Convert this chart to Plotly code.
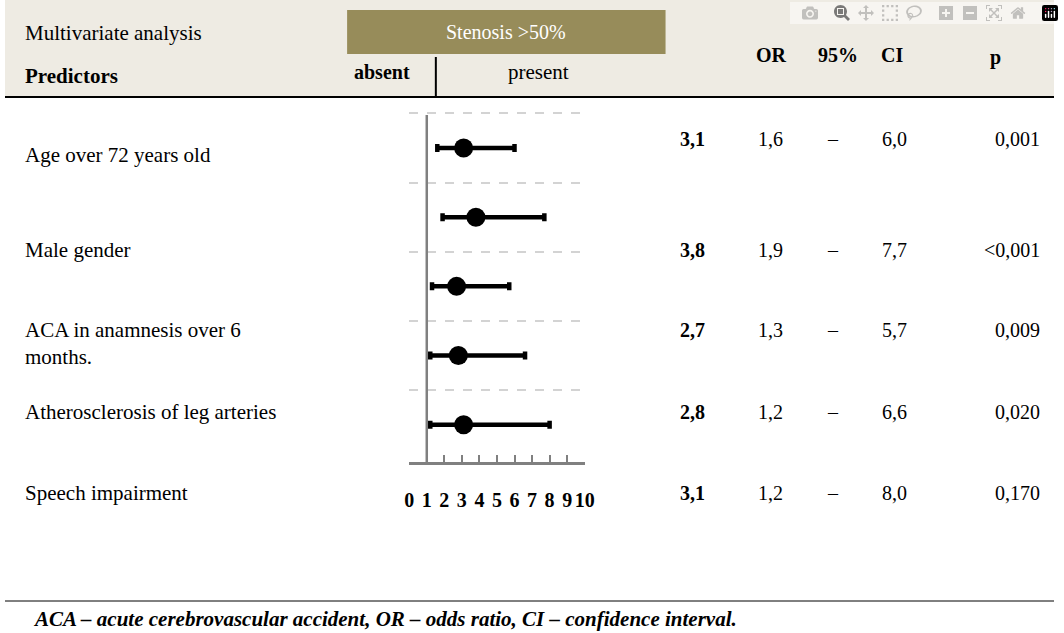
import plotly.graph_objects as go

W, H = 1064, 633
predictors = ["Age over 72 years old", "Male gender", "ACA in anamnesis over 6<br>months.",
              "Atherosclerosis of leg arteries", "Speech impairment"]
or_vals = [3.1, 3.8, 2.7, 2.8, 3.1]
ci_low = [1.6, 1.9, 1.3, 1.2, 1.2]
ci_high = [6.0, 7.7, 5.7, 6.6, 8.0]
or_txt = ["3,1", "3,8", "2,7", "2,8", "3,1"]
lo_txt = ["1,6", "1,9", "1,3", "1,2", "1,2"]
hi_txt = ["6,0", "7,7", "5,7", "6,6", "8,0"]
p_txt = ["0,001", "<0,001", "0,009", "0,020", "0,170"]
ypos = [4.5, 3.5, 2.5, 1.5, 0.5]
xticks = list(range(0, 11))

def px(x): return x / W
def py(y): return 1 - y / H

F = "Liberation Serif"
fig = go.Figure()
fig.add_trace(go.Scatter(
    x=or_vals, y=ypos, mode="markers",
    marker=dict(size=19, color="black"),
    error_x=dict(type="data", symmetric=False,
                 array=[h - o for h, o in zip(ci_high, or_vals)],
                 arrayminus=[o - l for o, l in zip(or_vals, ci_low)],
                 thickness=4.5, width=4, color="black"),
    showlegend=False, hoverinfo="skip"))

shapes = [
    dict(type="rect", xref="paper", yref="paper", x0=0, x1=1, y0=py(97), y1=1,
         fillcolor="#EEEBE3", line_width=0, layer="below"),
    dict(type="rect", xref="paper", yref="paper", x0=px(347), x1=px(670), y0=py(54), y1=py(10),
         fillcolor="#978C5A", line_width=0),
    dict(type="line", xref="paper", yref="paper", x0=0, x1=1, y0=py(97), y1=py(97),
         line=dict(color="black", width=2)),
    dict(type="line", xref="paper", yref="paper", x0=px(437), x1=px(437), y0=py(57), y1=py(97),
         line=dict(color="black", width=2)),
    dict(type="line", xref="paper", yref="paper", x0=0, x1=1, y0=py(601), y1=py(601),
         line=dict(color="black", width=1)),
    dict(type="line", xref="x", yref="paper", x0=1, x1=1, y0=py(462), y1=py(115),
         line=dict(color="#808080", width=2.5)),
]

ann = []
def T(x, y, s, size=20, bold=False, anchor="left", color="black", italic=False):
    if bold: s = "<b>" + s + "</b>"
    if italic: s = "<i>" + s + "</i>"
    ann.append(dict(xref="paper", yref="paper", x=px(x), y=py(y), text=s, showarrow=False,
                    xanchor=anchor, yanchor="middle", align="left",
                    font=dict(family=F, size=size, color=color)))

T(18, 33, "Multivariate analysis", size=21)
T(18, 76, "Predictors", bold=True, size=21)
T(508, 32, "Stenosis >50%", color="white", anchor="center", size=20)
T(382, 72, "absent", bold=True, anchor="center", size=20)
T(541, 72, "present", anchor="center", size=21)
T(777, 55, "OR", bold=True, anchor="center")
T(845, 55, "95%", bold=True, anchor="center")
T(900, 55, "CI", bold=True, anchor="center")
T(1005, 57, "p", bold=True, anchor="center")
pred_y = [155, 250, 343, 412, 493]
num_y = [139, 250, 330, 412, 493]
for i in range(5):
    T(18, pred_y[i], predictors[i], size=21)
    T(712, num_y[i], or_txt[i], bold=True, anchor="right")
    T(776, num_y[i], lo_txt[i], anchor="center")
    T(840, num_y[i], "–", anchor="center")
    T(902, num_y[i], hi_txt[i], anchor="center")
    T(1052, num_y[i], p_txt[i], anchor="right")
T(26, 619, "ACA – acute cerebrovascular accident, OR – odds ratio, CI – confidence interval.",
  italic=True, bold=True, size=21)

fig.update_layout(
    width=W, height=H, margin=dict(l=0, r=0, t=0, b=0),
    paper_bgcolor="white", plot_bgcolor="white",
    shapes=shapes, annotations=ann,
    xaxis=dict(domain=[px(410), px(588)], range=[0, 10], tickvals=xticks,
               ticktext=["<b>%d</b>" % t for t in xticks],
               showgrid=False, zeroline=False, showline=True, linecolor="#808080", linewidth=2.5,
               ticks="inside", ticklen=7, tickwidth=2, tickcolor="#808080",
               tickfont=dict(family=F, size=20, color="black"), ticklabelstandoff=18),
    yaxis=dict(domain=[py(462), py(110)], range=[-0.04, 5.05], tickvals=[1, 2, 3, 4, 5],
               showticklabels=False, showgrid=True, gridcolor="#D3D3D3", griddash="dash",
               gridwidth=1.5, zeroline=False, showline=False),
)
fig.write_html("out.html",
               post_script="document.body.style.margin='0';document.body.style.overflow='hidden';")
